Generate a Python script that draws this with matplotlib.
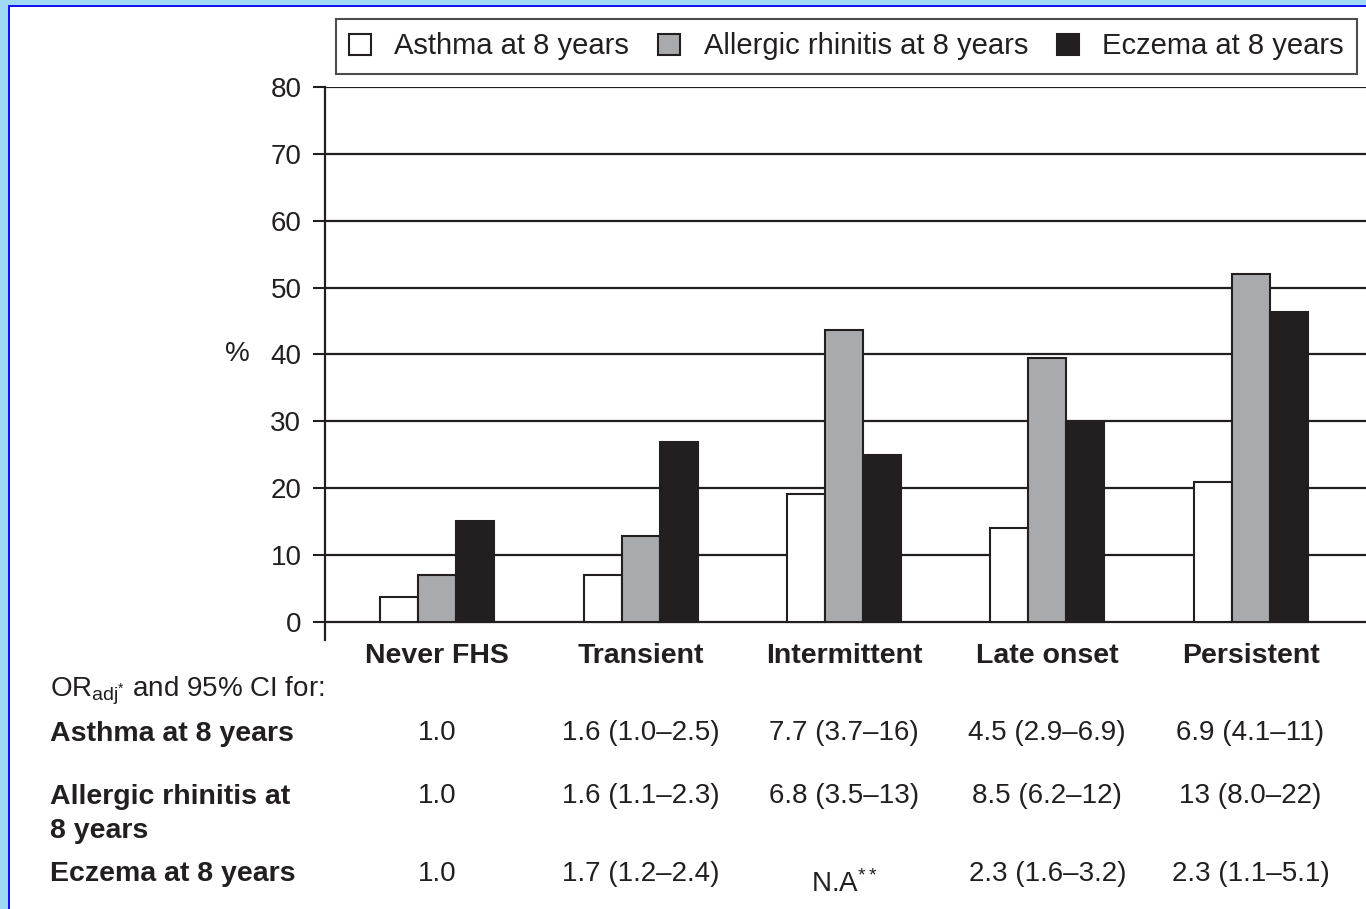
import matplotlib
matplotlib.use("Agg")
import matplotlib.pyplot as plt
from matplotlib.patches import Patch, Rectangle
from matplotlib.transforms import blended_transform_factory
import numpy as np

plt.rcParams['font.family'] = ['Liberation Sans', 'DejaVu Sans']
plt.rcParams['mathtext.fontset'] = 'custom'
plt.rcParams['mathtext.rm'] = 'Liberation Sans'
plt.rcParams['mathtext.it'] = 'Liberation Sans'

# data
categories = ["Never FHS", "Transient", "Intermittent", "Late onset", "Persistent"]
series_names = ["Asthma at 8 years", "Allergic rhinitis at 8 years", "Eczema at 8 years"]
asthma = [3.7, 7.0, 19.1, 14.1, 21.0]
rhinitis = [7.0, 12.9, 43.7, 39.4, 52.1]
eczema = [15.1, 26.9, 25.0, 29.7, 46.4]

row_labels = ["Asthma at 8 years", "Allergic rhinitis at\n8 years", "Eczema at 8 years"]
or_asthma = ["1.0", "1.6 (1.0–2.5)", "7.7 (3.7–16)", "4.5 (2.9–6.9)", "6.9 (4.1–11)"]
or_rhinitis = ["1.0", "1.6 (1.1–2.3)", "6.8 (3.5–13)", "8.5 (6.2–12)", "13 (8.0–22)"]
or_eczema = ["1.0", "1.7 (1.2–2.4)", r"N.A$^{**}$", "2.3 (1.6–3.2)", "2.3 (1.1–5.1)"]

ink = "#231f20"
colors = ["white", "#a9aaad", ink]

W, H = 1366, 909
fig = plt.figure(figsize=(W / 100, H / 100), dpi=100)
fig.patch.set_facecolor("white")

def fy(py):
    return 1 - py / H

ax = fig.add_axes([325 / W, fy(640), 1041 / W, (640 - 87) / H])
x = np.arange(len(categories))
w = 0.187
for i, vals in enumerate([asthma, rhinitis, eczema]):
    ax.bar(x + (i - 1) * w, vals, w, color=colors[i], edgecolor=ink,
           linewidth=1.5, zorder=3, label=series_names[i])

ax.set_xlim(-0.553, 4.568)
ax.set_ylim(-2.7, 80)
ax.set_yticks(range(0, 81, 10))
ax.yaxis.grid(True, color=ink, linewidth=1.6)
ax.set_axisbelow(True)
ax.set_xticks([])
for s in ["top", "right", "bottom"]:
    ax.spines[s].set_visible(False)
ax.spines["left"].set_color(ink)
ax.spines["left"].set_linewidth(1.6)
ax.tick_params(axis="y", length=9, width=1.5, color=ink, pad=8,
               labelsize=20, labelcolor=ink)
ax.set_ylabel("%", rotation=0, fontsize=20, color=ink, ha="center", va="center")
ax.yaxis.set_label_coords(-0.0845, (40 + 2.7) / 82.7)

tr = blended_transform_factory(ax.transData, fig.transFigure)
for i, c in enumerate(categories):
    ax.text(i, fy(656), c, transform=tr, ha="center", va="center",
            fontsize=20.5, fontweight="bold", color=ink)

# OR table under the chart
fig.text(50 / W, fy(691), r"OR$_{\mathrm{adj}^{*}}$ and 95% CI for:", fontsize=20,
         color=ink, ha="left", va="center")
row_y = [733, 796, 874]
fig.text(50 / W, fy(734), row_labels[0], fontsize=20.5, fontweight="bold",
         color=ink, ha="left", va="center")
fig.text(50 / W, fy(814), row_labels[1], fontsize=20.5, fontweight="bold",
         color=ink, ha="left", va="center", linespacing=1.45)
fig.text(50 / W, fy(874), row_labels[2], fontsize=20.5, fontweight="bold",
         color=ink, ha="left", va="center")
for r, vals in enumerate([or_asthma, or_rhinitis, or_eczema]):
    for i, v in enumerate(vals):
        yy = row_y[r]
        if v.startswith("N.A"):
            yy = 884
        ax.text(i, fy(yy), v, transform=tr, ha="center", va="center",
                fontsize=20, color=ink)

handles = [Patch(facecolor=colors[i], edgecolor=ink, linewidth=1.5) for i in range(3)]
leg = fig.legend(handles, series_names, loc="center", bbox_to_anchor=(846.5 / W, fy(46.5)),
                 ncol=3, fontsize=21, frameon=True, fancybox=False,
                 handlelength=0.75, handleheight=0.75, handletextpad=0.8,
                 columnspacing=1.0, borderpad=0.45, labelcolor=ink)
leg.get_frame().set_edgecolor(ink)
leg.get_frame().set_linewidth(1.5)

# blue slide frame on the left and top
fig.add_artist(Rectangle((0, 0), 8 / W, 1, transform=fig.transFigure,
                         facecolor="#9fd9f6", edgecolor="none", zorder=10))
fig.add_artist(Rectangle((0, fy(5)), 1, 5 / H, transform=fig.transFigure,
                         facecolor="#9fd9f6", edgecolor="none", zorder=10))
fig.add_artist(Rectangle((8 / W, 0), 2 / W, fy(5), transform=fig.transFigure,
                         facecolor="#1414f0", edgecolor="none", zorder=11))
fig.add_artist(Rectangle((8 / W, fy(7)), 1, 2 / H, transform=fig.transFigure,
                         facecolor="#1414f0", edgecolor="none", zorder=11))

fig.savefig("out.png", dpi=100)
